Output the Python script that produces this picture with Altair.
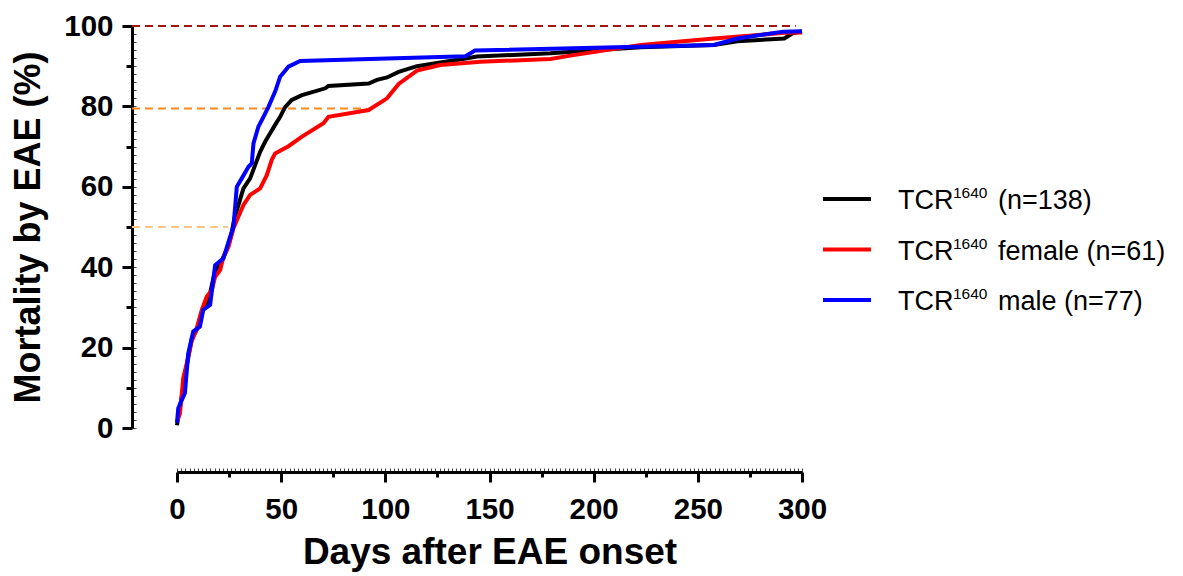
import altair as alt
import pandas as pd

FONT = "Liberation Sans"

series_keys = ["all", "female", "male"]
series_colors = ["#000000", "#FF0000", "#0000FF"]
legend_base = ["TCR", "TCR", "TCR"]
legend_sup = ["1640", "1640", "1640"]
legend_rest = ["(n=138)", "female (n=61)", "male (n=77)"]

all_days = [0, 1, 3, 4.7, 7, 9.5, 12, 15, 18, 21, 24, 26, 27.5, 29.5, 31.9, 35.1, 37.5, 39.9,
            42.3, 44.7, 47.1, 49.5, 51.9, 55.1, 60, 71.2, 72.7, 92, 96, 100.8, 106.4, 115.2,
            126.4, 139.3, 144, 179.3, 222.6, 257.7, 269, 291.5, 295.5, 300]
all_pct = [0.7, 4, 10, 15.5, 22, 24.5, 29, 31.5, 38.5, 41, 44.5, 48, 52, 55.5, 59.6, 62.1, 65.4, 68.7,
           71.2, 73.3, 75.4, 77.4, 79.8, 81.6, 82.8, 84.5, 85.1, 85.7, 86.6, 87.2, 88.6, 90,
           90.9, 92, 92.4, 93.2, 94.7, 95.3, 96.2, 96.9, 98.2, 98.6]

female_days = [0, 1.4, 3, 4.7, 7, 9.5, 11.9, 14.3, 16.7, 18.3, 20.7, 22.3, 24.7, 27.1, 29.5, 31.9,
               35.1, 39.9, 43.1, 45.5, 47.1, 53.5, 60, 70.3, 72.7, 92, 100.8, 106.4, 115.2, 126.4,
               145.7, 179.3, 187.3, 222.6, 257.8, 291.5, 300]
female_pct = [1.6, 3.6, 12.4, 16.1, 21.5, 24.8, 29.4, 32.7, 34.3, 37.6, 39.3, 42.6, 45.1, 49.7, 52.6, 55.5,
              58, 59.6, 62.9, 66.7, 68.3, 70.1, 72.5, 75.8, 77.4, 79.1, 82, 85.6, 88.9, 90.3,
              91.1, 91.8, 92.5, 95.3, 96.9, 98.3, 98.4]

male_days = [0, 0.6, 3.8, 5.4, 7.8, 11, 12.6, 15.9, 18.3, 22.3, 25.5, 27.1, 28.7, 31.1, 34.3, 35.9,
             36.7, 39.1, 41.5, 43.9, 47.1, 49.5, 53.5, 59.1, 138.5, 143, 257.7, 269, 291, 300]
male_pct = [1.3, 4.9, 8.7, 18.6, 24, 25.2, 29.4, 30.6, 40.5, 42.2, 47.6, 50, 60, 62.1, 65, 65.8,
            70.8, 75, 77.4, 79.9, 83.7, 87.4, 89.9, 91.3, 92.5, 93.9, 95.3, 96.9, 98.6, 98.7]

ref_levels = [100, 79.5, 50]
ref_start = [-21.6, -21.6, -21.6]
ref_end = [297, 91, 24.5]
ref_colors = ["#A31515", "#FF8A1F", "#FFC68A"]

x_major = [0, 50, 100, 150, 200, 250, 300]
x_minor = [25, 75, 125, 175, 225, 275]
x_tiny = list(range(0, 301, 2))
y_major = [0, 20, 40, 60, 80, 100]
y_minor = [10, 30, 50, 70, 90]
y_tiny = list(range(0, 101, 2))

rows = []
for name, d, p in zip(series_keys, [all_days, female_days, male_days], [all_pct, female_pct, male_pct]):
    for di, pi in zip(d, p):
        rows.append({"series": name, "day": di, "pct": pi})
df = pd.DataFrame(rows)
ref = pd.DataFrame({"y": ref_levels, "x0": ref_start, "x1": ref_end, "c": ref_colors})
leg = pd.DataFrame({"series": series_keys, "base": legend_base, "sup": legend_sup, "rest": legend_rest})

W, H = 625, 402
XOFF, YOFF = 44, 45
LFS = 29.5

x_scale = alt.Scale(domain=[0, 300], nice=False, zero=False)
y_scale = alt.Scale(domain=[0, 100], nice=False)
color_scale = alt.Scale(domain=series_keys, range=series_colors)

main_x_axis = alt.Axis(values=x_major, orient="bottom", offset=XOFF, tickSize=10, tickWidth=3,
                       domainWidth=3, domainColor="black", tickColor="black",
                       labelFont=FONT, labelFontSize=LFS, labelFontWeight="bold", labelColor="black",
                       labelPadding=13, labelFlush=False, labelOverlap=False,
                       title="Days after EAE onset", titleFont=FONT, titleFontSize=37,
                       titleFontWeight="bold", titleColor="black", titlePadding=11, grid=False)
main_y_axis = alt.Axis(values=y_major, orient="left", offset=YOFF, tickSize=10, tickWidth=3,
                       domainWidth=3, domainColor="black", tickColor="black",
                       labelFont=FONT, labelFontSize=LFS, labelFontWeight="bold", labelColor="black",
                       labelPadding=9, labelFlush=False, labelOverlap=False,
                       title="Mortality by EAE (%)", titleFont=FONT, titleFontSize=36,
                       titleFontWeight="bold", titleColor="black", titlePadding=16, grid=False)

refs = alt.Chart(ref).mark_rule(strokeWidth=2, strokeDash=[8, 5]).encode(
    x=alt.X("x0:Q", scale=x_scale, axis=None),
    x2="x1:Q",
    y=alt.Y("y:Q", scale=y_scale, axis=None),
    color=alt.Color("c:N", scale=None, legend=None),
)

lines = alt.Chart(df).mark_line(strokeWidth=4).encode(
    x=alt.X("day:Q", scale=x_scale, axis=main_x_axis),
    y=alt.Y("pct:Q", scale=y_scale, axis=main_y_axis),
    color=alt.Color("series:N", scale=color_scale, sort=series_keys, legend=None),
)

minor = alt.Chart(df).mark_point(opacity=0).encode(
    x=alt.X("day:Q", scale=x_scale,
            axis=alt.Axis(values=x_minor, orient="bottom", offset=XOFF, tickSize=5, tickWidth=3,
                          tickColor="black", labels=False, domain=False, title=None, grid=False)),
    y=alt.Y("pct:Q", scale=y_scale,
            axis=alt.Axis(values=y_minor, orient="left", offset=YOFF, tickSize=6, tickWidth=3,
                          tickColor="black", labels=False, domain=False, title=None, grid=False)),
)

tiny = alt.Chart(df).mark_point(opacity=0).encode(
    x=alt.X("day:Q", scale=x_scale,
            axis=alt.Axis(values=x_tiny, orient="top", offset=-(H + XOFF), tickSize=4, tickWidth=1,
                          tickColor="#444444", labels=False, domain=False, title=None, grid=False)),
    y=alt.Y("pct:Q", scale=y_scale,
            axis=alt.Axis(values=y_tiny, orient="right", offset=-(W + YOFF), tickSize=4, tickWidth=1,
                          tickColor="#444444", labels=False, domain=False, title=None, grid=False)),
)

# legend (built by hand so that "1640" can be a true superscript)
leg_y = alt.Y("series:N", scale=alt.Scale(type="point", domain=series_keys, range=[173, 274], padding=0),
              axis=None)
leg_sym = alt.Chart(leg).mark_rule(strokeWidth=4).encode(
    x=alt.value(646), x2=alt.value(694), y=leg_y,
    color=alt.Color("series:N", scale=color_scale, legend=None),
)
leg_base = alt.Chart(leg).mark_text(align="left", baseline="alphabetic", font=FONT, fontSize=27,
                                    dy=10, color="black").encode(x=alt.value(721), y=leg_y, text="base:N")
leg_sup = alt.Chart(leg).mark_text(align="left", baseline="alphabetic", font=FONT, fontSize=15.5,
                                   dy=-1, color="black").encode(x=alt.value(776), y=leg_y, text="sup:N")
leg_rest = alt.Chart(leg).mark_text(align="left", baseline="alphabetic", font=FONT, fontSize=27,
                                    dy=10, color="black").encode(x=alt.value(821), y=leg_y, text="rest:N")

chart = alt.layer(refs, tiny, minor, lines, leg_sym, leg_base, leg_sup, leg_rest).resolve_scale(
    x="independent", y="independent", color="independent"
).resolve_axis(
    x="independent", y="independent"
).properties(
    width=W, height=H,
    autosize=alt.AutoSizeParams(type="none"),
    padding={"left": 177, "top": 26, "right": 381, "bottom": 148},
).configure(background="white").configure_view(stroke=None)

chart.save("out.html", embed_options={"renderer": "svg", "actions": False})
